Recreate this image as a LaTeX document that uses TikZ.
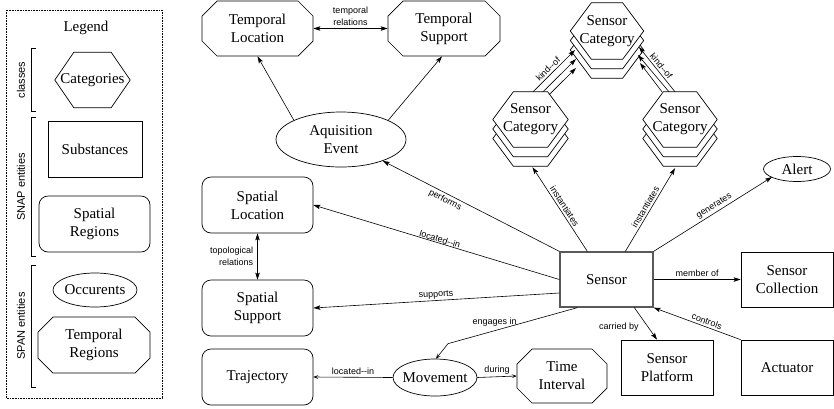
\documentclass[tikz,border=0pt]{standalone}
\usepackage{fontspec}
\setmainfont{Liberation Serif}
\setsansfont{Liberation Sans}
\newfontfamily\nodefont{Liberation Serif}
\newfontfamily\relfont{Liberation Sans}
\usetikzlibrary{arrows.meta,calc,shapes.geometric,shapes.misc}
\pgfdeclarelayer{background}
\pgfsetlayers{background,main}

% hexagon outline around a (borderless) node: #1 node, #2 corner cut, #3 vertical offset
\newcommand\hexoutline[3]{%
  \draw[hexline] ([yshift=#3]#1.west)
    -- ([shift={(#2,#3)}]#1.north west) -- ([shift={(-#2,#3)}]#1.north east)
    -- ([yshift=#3]#1.east)
    -- ([shift={(-#2,#3)}]#1.south east) -- ([shift={(#2,#3)}]#1.south west)
    -- cycle;}
% a stack of three hexagons, the front one on top
\newcommand\hexstack[2]{%
  \hexoutline{#1}{#2}{-19}\hexoutline{#1}{#2}{-9.5}\hexoutline{#1}{#2}{0}}

\begin{document}
\begin{tikzpicture}[x=1pt,y=1pt,
  every node/.style={inner sep=0pt},
  txt/.style={font=\nodefont\fontsize{15}{18}\selectfont, align=center},
  hexline/.style={draw, fill=white, line width=.7pt, line join=miter},
  hexnode/.style={txt, minimum width=73pt, minimum height=56pt},
  substance/.style={txt, draw, line width=.7pt, minimum width=92pt, minimum height=55pt},
  sensorbox/.style={txt, draw=black!65, line width=1.3pt, minimum width=93pt, minimum height=55pt},
  region/.style={txt, draw, line width=.7pt, rounded corners=9pt, minimum width=111pt, minimum height=56pt},
  tempregion/.style={txt, draw, line width=.7pt, chamfered rectangle, chamfered rectangle xsep=7.5pt,
    chamfered rectangle ysep=7.5pt, minimum width=111pt, minimum height=55pt},
  occurrent/.style={txt, draw, line width=.7pt, ellipse},
  edgelbl/.style={font=\relfont\fontsize{9}{11.5}\selectfont, align=center},
  bracketlbl/.style={font=\relfont\fontsize{11}{13}\selectfont, rotate=90},
  arr/.style={line width=.6pt, -{Stealth[length=7pt,width=4.5pt,inset=1.5pt]}},
  thinarr/.style={line width=.6pt, -{Stealth[length=5pt,width=4pt,inset=2.5pt]}},
  darr/.style={line width=.6pt, {Stealth[length=7pt,width=4.5pt,inset=1.5pt]}-{Stealth[length=7pt,width=4.5pt,inset=1.5pt]}}
]
\useasboundingbox (0,0) rectangle (834,-408);

% ---------- legend ----------
\draw[densely dotted, line width=.6pt] (6,-10) rectangle (162,-398);
\node[txt] (legendtitle) at (86,-28) {Legend};

\draw[line width=.6pt] (36,-48) -- (31,-48) -- (31,-111) -- (36,-111);
\draw[line width=.6pt] (36,-117) -- (31,-117) -- (31,-256) -- (36,-256);
\draw[line width=.6pt] (36,-265) -- (31,-265) -- (31,-387) -- (36,-387);
\node[bracketlbl] (lclasses) at (21,-80) {classes};
\node[bracketlbl] (lsnap) at (21,-187) {SNAP entities};
\node[bracketlbl] (lspan) at (21,-326) {SPAN entities};

\node[hexnode, minimum width=75pt, minimum height=55pt] (lcat) at (92.5,-80) {Categories};
\node[substance, minimum width=94pt, minimum height=56pt] (lsub) at (95,-149) {Substances};
\node[region] (lspat) at (94.5,-224) {Spatial\\Regions};
\node[occurrent, minimum width=84pt, minimum height=34pt, inner xsep=-2pt] (locc) at (95,-290) {Occurents};
\node[tempregion, minimum width=112pt, minimum height=56pt] (ltemp) at (94,-345) {Temporal\\Regions};

% ---------- main nodes ----------
\node[tempregion] (tloc) at (257.5,-28.5) {Temporal\\Location};
\node[tempregion, minimum width=112pt] (tsup) at (444,-28.5) {Temporal\\Support};
\node[occurrent, minimum width=130pt, minimum height=55pt] (aq) at (341,-139.5) {Aquisition\\Event};

\node[region] (sloc) at (257.5,-205) {Spatial\\Location};
\node[region] (ssup) at (257.5,-308) {Spatial\\Support};
\node[region] (traj) at (257.5,-377) {Trajectory};

\node[occurrent, minimum width=84pt, minimum height=37pt, inner xsep=-4pt] (mov) at (435,-377.5) {Movement};
\node[tempregion, minimum width=90pt, minimum height=54pt] (tint) at (562,-376) {Time\\Interval};

\node[sensorbox] (sensor) at (606.5,-279.5) {Sensor};
\node[substance] (scoll) at (787,-279.5) {Sensor\\Collection};
\node[substance] (splat) at (667,-367.5) {Sensor\\Platform};
\node[substance] (act) at (787,-367.5) {Actuator};
\node[occurrent, minimum width=67pt, minimum height=25pt] (alert) at (797,-169) {Alert};

\node[hexnode] (topcat) at (607,-31) {Sensor\\Category};
\node[hexnode, minimum width=75pt, minimum height=55pt] (leftcat) at (530.5,-119.5) {Sensor\\Category};
\node[hexnode, minimum width=74pt, minimum height=55pt] (rightcat) at (680,-119.5) {Sensor\\Category};

\begin{pgfonlayer}{background}
  \hexoutline{lcat}{19}{0}
  \hexstack{topcat}{21}
  \hexstack{leftcat}{20.5}
  \hexstack{rightcat}{20.5}
\end{pgfonlayer}

% ---------- connectors ----------
\draw[darr] (tloc.east) -- node[edgelbl, above=3pt] {temporal\\relations} (tsup.west);
\draw[arr] ($(aq.center)+(-47,19)$) -- (tloc.south);
\draw[arr] ($(aq.center)+(47,19)$) -- ([xshift=-2pt]tsup.south);

\draw[darr] (sloc.south) -- node[edgelbl, left=4pt, align=right] {topological\\relations} (ssup.north);

% kind-of links between the category stacks
\draw[arr] ($(leftcat.north)+(2.5,0)$) -- node[edgelbl, pos=.45, sloped, above=2pt] {kind--of} ($(topcat.center)+(-32,-19)$);
\draw[arr] ($(leftcat.north)+(12.5,0)$) -- ($(topcat.center)+(-31,-28)$);
\draw[arr] ($(leftcat.north)+(18.5,-3)$) -- ($(topcat.center)+(-31,-37)$);
\draw[arr] ($(rightcat.north)+(-5,0)$) -- node[edgelbl, pos=.5, sloped, above=2pt] {kind--of} ($(topcat.center)+(32,-16)$);
\draw[arr] ($(rightcat.north)+(-11,0)$) -- ($(topcat.center)+(31,-24)$);
\draw[arr] ($(rightcat.north)+(-18,0)$) -- ($(topcat.center)+(33,-32)$);

% relations of the sensor
\draw[arr] (sensor.north west) -- node[edgelbl, pos=.63, sloped, below=2pt] {performs} (aq);
\draw[arr] ($(sensor.north west)+(28,0)$) -- node[edgelbl, pos=.5, sloped, above=2pt] {instantiates} ($(leftcat.south)+(2,-20)$);
\draw[arr] ($(sensor.north west)+(66,0)$) -- node[edgelbl, pos=.5, sloped, above=2pt] {instantiates} ($(rightcat.south)+(-5,-21)$);
\draw[arr] (sensor.north east) -- node[edgelbl, pos=.54, sloped, above=2pt] {generates} ($(alert.center)+(-25,-8)$);
\draw[arr] (sensor.west) -- node[edgelbl, pos=.49, sloped, above=.5pt] {located--in} (sloc.east);
\draw[arr] ($(sensor.west)+(0,-13.5)$) -- node[edgelbl, pos=.5, sloped, above=1.5pt] {supports} (ssup.east);
\draw[arr] (sensor.east) -- node[edgelbl, above=3pt] {member of} (scoll.west);
\draw[arr] ($(sensor.south west)+(75,0)$) -- node[edgelbl, pos=.6, left=9pt] {carried by} ($(splat.north)+(-10,0)$);
\draw[arr] (act.north west) -- node[edgelbl, pos=.41, sloped, above=2pt] {controls} (sensor.south east);
\draw[thinarr] ($(sensor.south west)+(18,0)$) -- node[edgelbl, pos=.64, above=4pt] {engages in} ($(mov.north)+(13,15)$) -- ($(mov.north)+(1,0)$);

% movement
\draw[thinarr] (mov.west) -- node[edgelbl, above=2.5pt] {located--in} (traj.east);
\draw[thinarr] (mov.east) -- node[edgelbl, above=2.5pt] {during} (tint.west);
\end{tikzpicture}
\end{document}
